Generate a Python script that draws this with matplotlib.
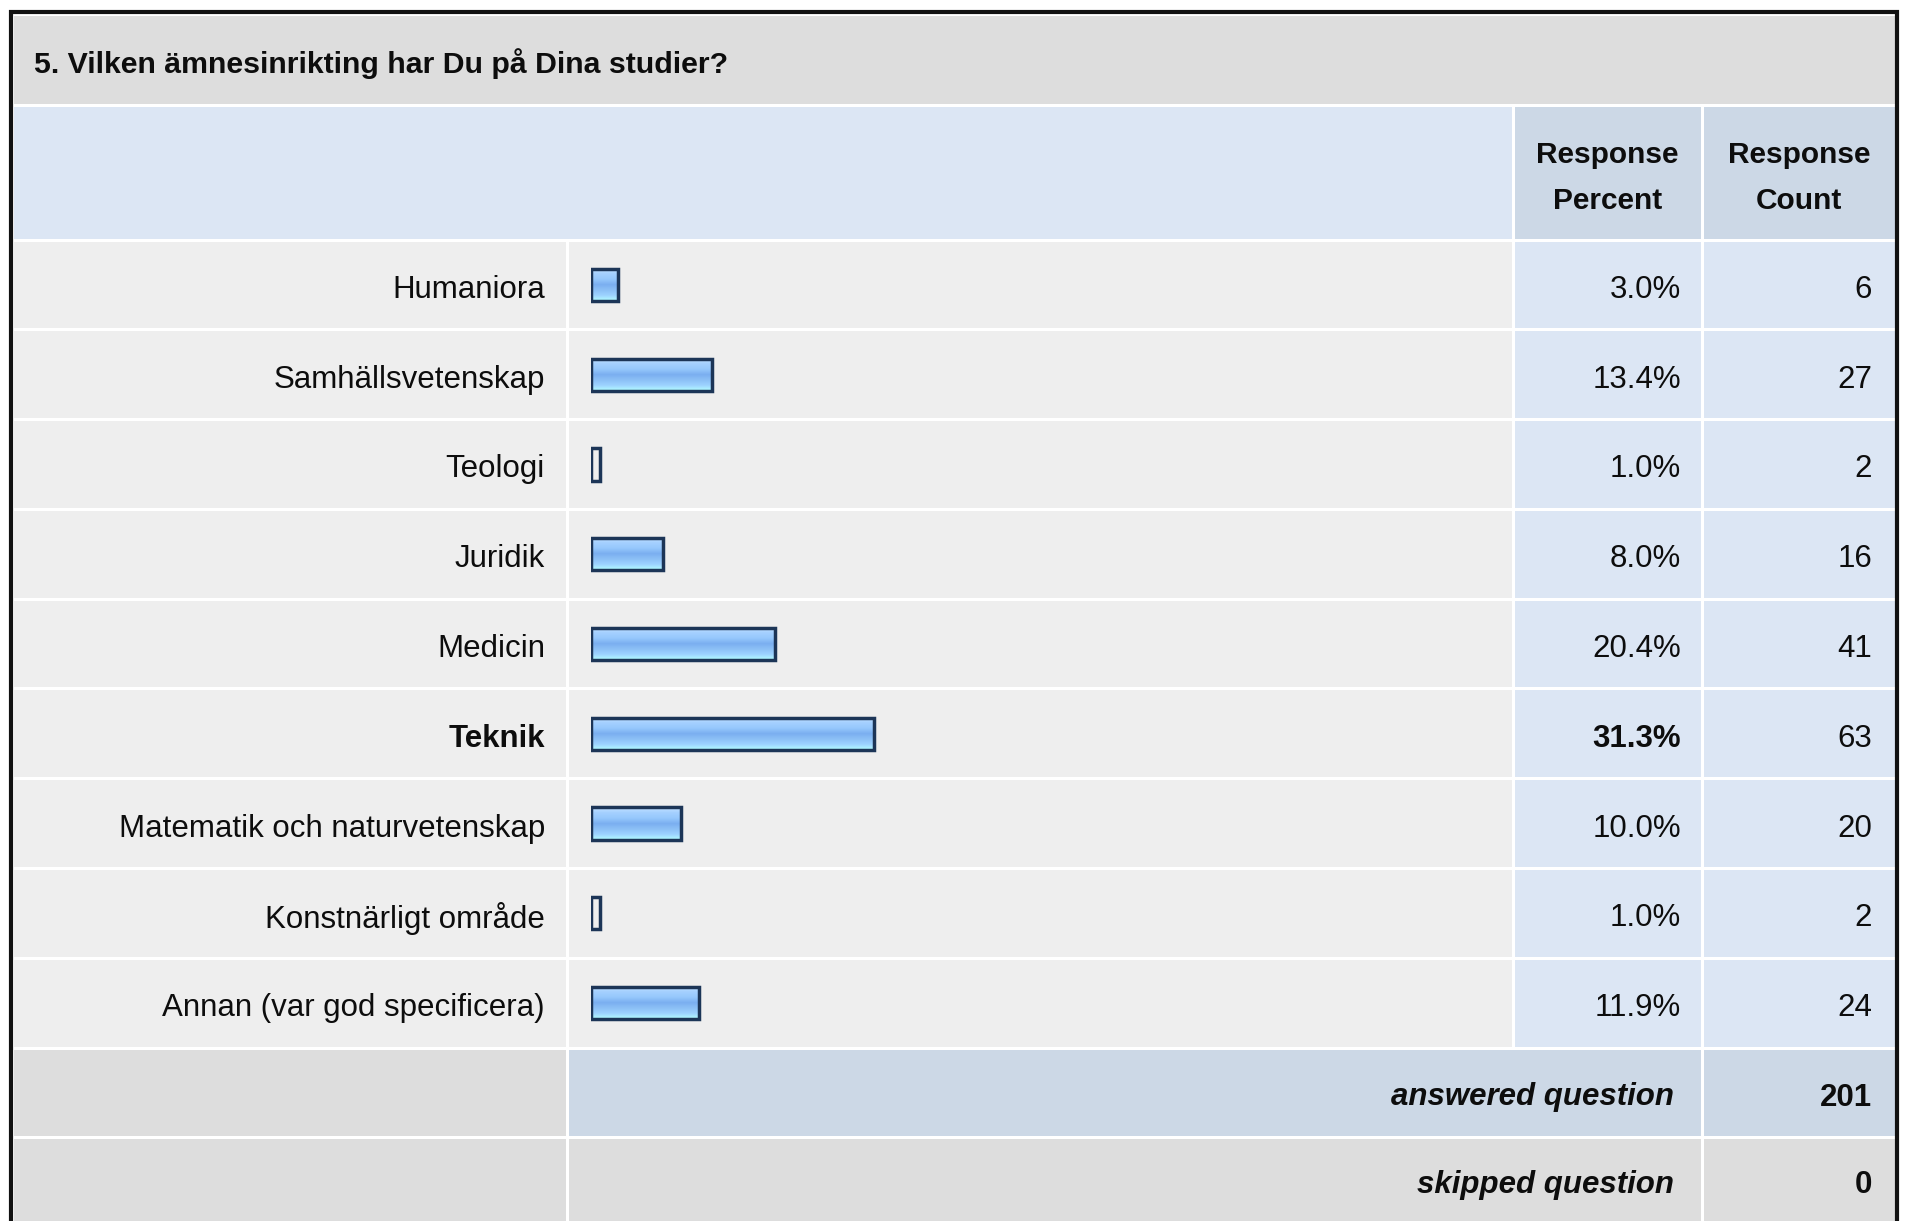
import numpy as np
import matplotlib.pyplot as plt
from matplotlib.patches import Rectangle
from matplotlib.colors import LinearSegmentedColormap

plt.rcParams['font.family'] = ['Liberation Sans', 'DejaVu Sans']

title = "5. Vilken ämnesinrikting har Du på Dina studier?"
categories = ["Humaniora", "Samhällsvetenskap", "Teologi", "Juridik", "Medicin", "Teknik",
              "Matematik och naturvetenskap", "Konstnärligt område", "Annan (var god specificera)"]
percent = [3.0, 13.4, 1.0, 8.0, 20.4, 31.3, 10.0, 1.0, 11.9]
count = [6, 27, 2, 16, 41, 63, 20, 2, 24]
answered = 201
skipped = 0
header_top = ["Response", "Response"]
header_bottom = ["Percent", "Count"]
highlight = "Teknik"

W, H = 1911, 1221
GRAY = "#dddddd"
ROW = "#eeeeee"
LBLUE = "#dce6f4"
DBLUE = "#ccd8e6"
TXT = "#0d0d0d"
FS = 22.5

fig = plt.figure(figsize=(W / 100, H / 100), dpi=100)
bg = fig.add_axes([0, 0, 1, 1])
bg.set_xlim(0, W)
bg.set_ylim(H, 0)
bg.axis('off')

# table grid (pixels)
cols = [12, 567, 1513, 1702, 1896]
title_y = (14, 105)
head_y = (105, 240)
row_h = (1048 - 240) / len(categories)
rows_y0 = 240
dy = 5  # text baseline nudge


def cell(x0, x1, y0, y1, color):
    bg.add_patch(Rectangle((x0 + 1.5, y0 + 1.5), x1 - x0 - 3, y1 - y0 - 3,
                           facecolor=color, edgecolor='none'))


# title band
cell(cols[0], cols[4], title_y[0], title_y[1], GRAY)
bg.text(34, (title_y[0] + title_y[1]) / 2 + 4, title, fontsize=21.8, fontweight='bold',
        color=TXT, ha='left', va='center')

# header
cell(cols[0], cols[2], head_y[0], head_y[1], LBLUE)
cell(cols[2], cols[3], head_y[0], head_y[1], DBLUE)
cell(cols[3], cols[4], head_y[0], head_y[1], DBLUE)
for j in range(2):
    cx = (cols[2 + j] + cols[3 + j]) / 2
    bg.text(cx, 155, header_top[j], fontsize=21.5, fontweight='bold', color=TXT,
            ha='center', va='center')
    bg.text(cx, 201, header_bottom[j], fontsize=21.5, fontweight='bold', color=TXT,
            ha='center', va='center')

# data rows
for i, (cat, p, c) in enumerate(zip(categories, percent, count)):
    y0 = rows_y0 + i * row_h
    y1 = y0 + row_h
    yc = (y0 + y1) / 2 + dy
    cell(cols[0], cols[1], y0, y1, ROW)
    cell(cols[1], cols[2], y0, y1, ROW)
    cell(cols[2], cols[3], y0, y1, LBLUE)
    cell(cols[3], cols[4], y0, y1, LBLUE)
    fw = 'bold' if cat == highlight else 'normal'
    bg.text(545, yc, cat, fontsize=FS, fontweight=fw, color=TXT, ha='right', va='center')
    bg.text(1681, yc, f"{p:.1f}%", fontsize=FS, fontweight=fw, color=TXT, ha='right', va='center')
    bg.text(1872, yc, str(c), fontsize=FS, color=TXT, ha='right', va='center')

# footer rows
ya0 = rows_y0 + len(categories) * row_h
ya1 = ya0 + 89
cell(cols[0], cols[1], ya0, ya1, GRAY)
cell(cols[1], cols[3], ya0, ya1, DBLUE)
cell(cols[3], cols[4], ya0, ya1, DBLUE)
bg.text(1674, (ya0 + ya1) / 2 + dy, "answered question", fontsize=22.5, fontweight='bold',
        fontstyle='italic', color=TXT, ha='right', va='center')
bg.text(1872, (ya0 + ya1) / 2 + dy, str(answered), fontsize=22.5, fontweight='bold',
        color=TXT, ha='right', va='center')

ys0 = ya1
ys1 = H + 20
cell(cols[0], cols[1], ys0, ys1, GRAY)
cell(cols[1], cols[3], ys0, ys1, GRAY)
cell(cols[3], cols[4], ys0, ys1, GRAY)
bg.text(1674, 1185, "skipped question", fontsize=22.5, fontweight='bold',
        fontstyle='italic', color=TXT, ha='right', va='center')
bg.text(1872, 1185, str(skipped), fontsize=22.5, fontweight='bold',
        color=TXT, ha='right', va='center')

# outer border
bg.plot([11, 11, 1897, 1897], [H + 5, 12, 12, H + 5], color='#111111', lw=3,
        solid_joinstyle='miter')

# bars
bx0, bx1 = 591, 1495
ax = fig.add_axes([bx0 / W, 1 - ya0 / H, (bx1 - bx0) / W, (ya0 - rows_y0) / H])
ax.axis('off')
grad = LinearSegmentedColormap.from_list(
    'bar', ["#c6e2ff", "#a4d0ff", "#96c8fc", "#7aaef0", "#8cc0f6", "#9dd2ff", "#b4ffff"])
bar_h = 0.36
ypos = np.arange(len(categories))
g = np.linspace(0, 1, 64).reshape(-1, 1)
for y, p in zip(ypos, percent):
    if p < 1.5:
        continue  # too narrow for the gradient fill, outline only
    ax.imshow(g, cmap=grad, aspect='auto', interpolation='bilinear',
              extent=(0, p, y + bar_h / 2, y - bar_h / 2), zorder=1)
ax.barh(ypos, percent, height=bar_h, left=0, facecolor='none', edgecolor='#1c3557',
        linewidth=2.5, zorder=2)
ax.set_xlim(0, 100)
ax.set_ylim(len(categories) - 0.5, -0.5)

fig.savefig("out.png", dpi=100, facecolor='white')
